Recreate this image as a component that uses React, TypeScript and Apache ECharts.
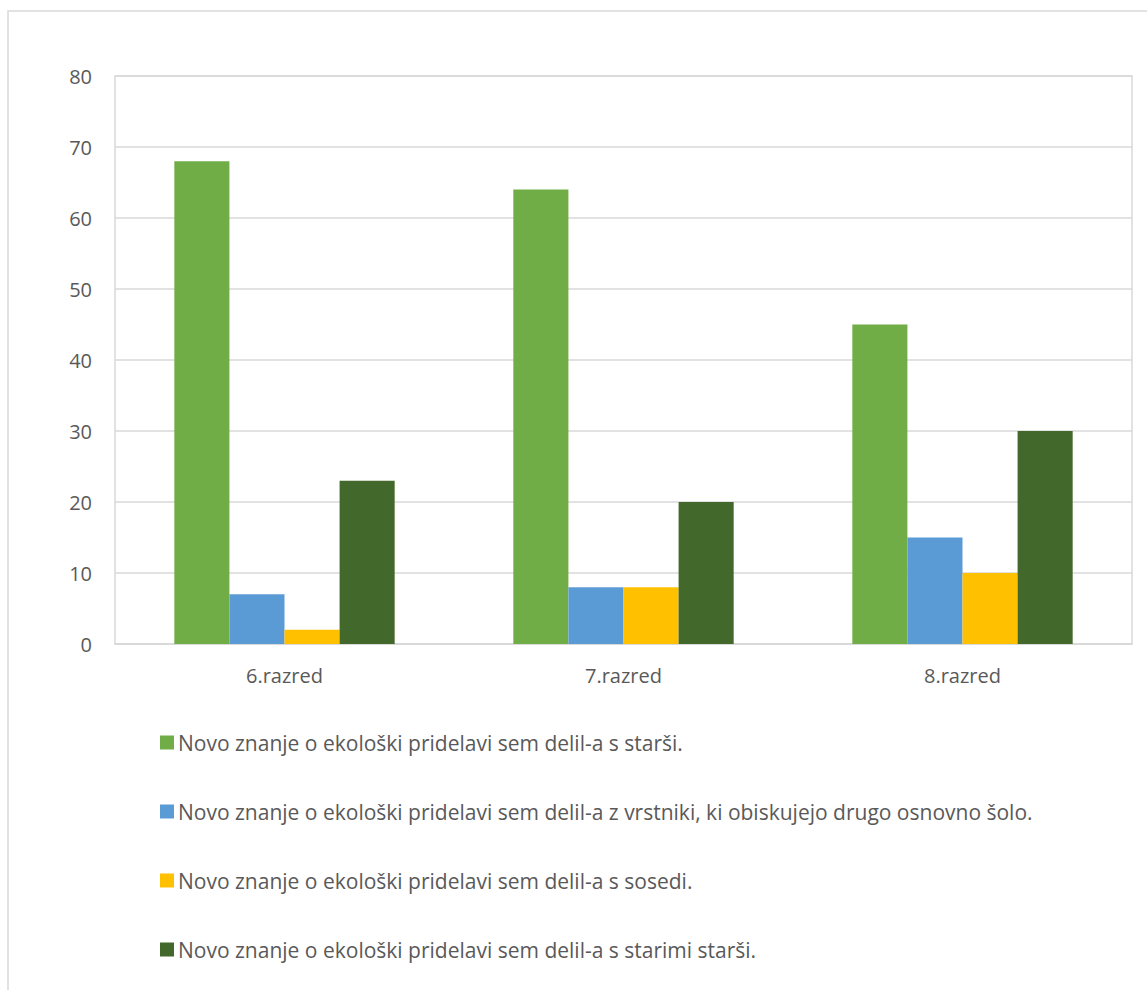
import React, { useEffect, useRef } from "react";
import * as echarts from "echarts";

const categories = ["6.razred", "7.razred", "8.razred"];
const seriesNames = [
  "Novo znanje o ekološki pridelavi sem delil-a s starši.",
  "Novo znanje o ekološki pridelavi sem delil-a z vrstniki, ki obiskujejo drugo osnovno šolo.",
  "Novo znanje o ekološki pridelavi sem delil-a s sosedi.",
  "Novo znanje o ekološki pridelavi sem delil-a s starimi starši.",
];
const starsi = [68, 64, 45];
const vrstniki = [7, 8, 15];
const sosedi = [2, 8, 10];
const stariStarsi = [23, 20, 30];
const colors = ["#70AD47", "#5B9BD5", "#FFC000", "#43682B"];

export default function App() {
  const ref = useRef<HTMLDivElement>(null);
  useEffect(() => {
    document.body.style.margin = "0";
    const chart = echarts.init(ref.current!, null, { renderer: "svg" });
    const values = [starsi, vrstniki, sosedi, stariStarsi];
    const font = "'Open Sans', 'Noto Sans', sans-serif";
    chart.setOption({
      animation: false,
      backgroundColor: "#ffffff",
      textStyle: { fontFamily: font },
      graphic: [
        {
          type: "rect",
          shape: { x: 8, y: 11, width: 1160, height: 1000 },
          style: { fill: "none", stroke: "#d9d9d9", lineWidth: 1.5 },
          silent: true,
        },
      ],
      grid: {
        left: 115,
        top: 76,
        right: 15,
        bottom: 346,
        show: true,
        borderColor: "#d9d9d9",
        borderWidth: 1.5,
      },
      legend: {
        orient: "vertical",
        left: 160,
        top: 732,
        padding: 0,
        itemWidth: 14,
        itemHeight: 14,
        itemGap: 48,
        icon: "rect",
        textStyle: { fontSize: 21, color: "#595959", lineHeight: 20, fontFamily: font, padding: [0, 0, 0, -1] },
        data: seriesNames,
      },
      xAxis: {
        type: "category",
        data: categories,
        axisLine: { lineStyle: { color: "#d9d9d9", width: 1.5 } },
        axisTick: { show: false },
        axisLabel: { fontSize: 20, color: "#595959", margin: 21, fontFamily: font },
      },
      yAxis: {
        type: "value",
        min: 0,
        max: 80,
        interval: 10,
        axisLine: { show: false },
        axisTick: { show: false },
        axisLabel: { fontSize: 20, color: "#595959", margin: 23, fontFamily: font },
        splitLine: { lineStyle: { color: "#d9d9d9", width: 1.5 } },
      },
      series: seriesNames.map((name, i) => ({
        name,
        type: "bar",
        data: values[i],
        itemStyle: { color: colors[i] },
        barGap: "0%",
        barCategoryGap: "35%",
      })),
    });
    return () => chart.dispose();
  }, []);
  return <div ref={ref} style={{ width: 1147, height: 990 }} />;
}
